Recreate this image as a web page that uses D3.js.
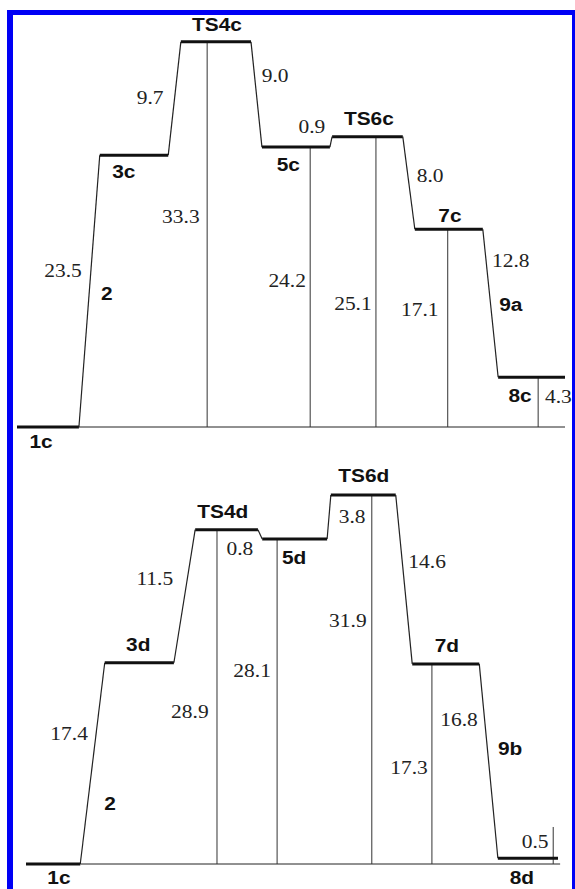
<!DOCTYPE html>
<html>
<head>
    <title>Energy Profile</title>
    <style>
        body { margin: 0; background: #fff; }
        .level { stroke: #111; stroke-width: 3px; }
        .slope { stroke: #222; stroke-width: 1.2px; fill: none; }
        .drop { stroke: #333; stroke-width: 1px; }
        .base { stroke: #222; stroke-width: 1px; }
        .name { font-family: "Liberation Sans", Arial, sans-serif; font-weight: bold; font-size: 18px; fill: #111; }
        .num { font-family: "Liberation Serif", "Times New Roman", serif; font-size: 18.5px; fill: #222; }
    </style>
</head>
<body>
<script src="https://d3js.org/d3.v7.min.js"></script>
<script>
    // --- data (kcal/mol relative to 1c) ---
    const topNames = ["1c", "3c", "TS4c", "5c", "TS6c", "7c", "8c"];
    const topEnergy = [0, 23.5, 33.3, 24.2, 25.1, 17.1, 4.3];
    const topSteps = [23.5, 9.7, 9.0, 0.9, 8.0, 12.8];
    const topBridge = ["2", "9a"];

    const botNames = ["1c", "3d", "TS4d", "5d", "TS6d", "7d", "8d"];
    const botEnergy = [0, 17.4, 28.9, 28.1, 31.9, 17.3, 0.5];
    const botSteps = [17.4, 11.5, 0.8, 3.8, 14.6, 16.8];
    const botBridge = ["2", "9b"];

    // --- layout: reaction coordinate (0-100) extents and label anchors [rc, energy] ---
    const topSpan = [[0, 11.3], [15.1, 27.6], [29.9, 42.7], [44.7, 57.1], [57.5, 70.4], [72.6, 85.0], [87.8, 100]];
    const topDrop = [null, null, 34.7, 53.5, 65.5, 78.6, 95.1];
    const topNamePos = [[4.4, -1.8], [19.5, 21.5], [36.5, 34.2], [49.5, 22.1], [64.2, 26.1], [79.0, 17.7], [91.8, 2.2]];
    const topStepPos = [[8.4, 13.0], [24.3, 27.9], [47.1, 29.8], [53.8, 25.4], [75.4, 21.2], [90.1, 13.8]];
    const topValuePos = [null, null, [29.9, 17.6], [49.3, 12.1], [61.3, 10.1], [73.5, 9.6], [98.8, 2.1]];
    const topBridgePos = [[16.4, 11.0], [90.1, 10.0]];

    const botSpan = [[0, 10.2], [14.8, 27.8], [31.8, 43.6], [44.4, 56.6], [57.3, 69.5], [72.6, 85.2], [88.7, 100]];
    const botDrop = [null, null, 35.9, 47.2, 65.0, 76.3, 99.1];
    const botNamePos = [[6.2, -1.75], [21.1, 18.4], [37.0, 29.9], [50.4, 25.9], [63.5, 33.0], [79.1, 18.3], [93.2, -1.7]];
    const botStepPos = [[8.1, 10.7], [24.2, 24.1], [40.2, 26.7], [61.3, 29.5], [75.4, 25.6], [81.4, 11.9]];
    const botValuePos = [null, null, [30.8, 12.6], [42.5, 16.2], [60.5, 20.5], [72.0, 7.8], [95.7, 1.4]];
    const botBridgePos = [[15.8, 4.7], [91.0, 9.4]];

    const width = 575, height = 889;
    const stretch = 1.16; // text in the source is a bit wider than tall

    const svg = d3.select("body").append("svg")
        .attr("width", width)
        .attr("height", height);

    // blue frame (no bottom edge)
    svg.append("rect").attr("x", 7).attr("y", 10).attr("width", 568).attr("height", 5).attr("fill", "#0000f5");
    svg.append("rect").attr("x", 7).attr("y", 10).attr("width", 6).attr("height", height - 10).attr("fill", "#0000f5");
    svg.append("rect").attr("x", 572).attr("y", 10).attr("width", 3).attr("height", height - 10).attr("fill", "#0000f5");

    function label(g, text, cls, x, y) {
        g.append("text")
            .attr("class", cls)
            .attr("text-anchor", "middle")
            .attr("transform", `translate(${x},${y}) scale(${stretch},1)`)
            .text(text);
    }

    function drawPanel(p) {
        const g = svg.append("g");
        const x = d3.scaleLinear().domain([0, 100]).range(p.xRange);
        const y = d3.scaleLinear().domain([0, p.energy[p.top]]).range([p.base, p.base - p.energy[p.top] * 11.567]);

        // baseline from the end of the reactant level
        g.append("line").attr("class", "base")
            .attr("x1", x(p.span[0][1])).attr("x2", x(p.baseEnd))
            .attr("y1", y(0)).attr("y2", y(0));

        // drop lines
        p.energy.forEach((e, i) => {
            if (p.drop[i] == null) return;
            g.append("line").attr("class", "drop")
                .attr("x1", x(p.drop[i])).attr("x2", x(p.drop[i]))
                .attr("y1", y(Math.max(e, p.minDrop))).attr("y2", y(0));
        });

        // connectors
        d3.range(p.energy.length - 1).forEach(i => {
            g.append("line").attr("class", "slope")
                .attr("x1", x(p.span[i][1])).attr("y1", y(p.energy[i]))
                .attr("x2", x(p.span[i + 1][0])).attr("y2", y(p.energy[i + 1]));
        });

        // levels
        g.selectAll(".level").data(p.energy).enter().append("line")
            .attr("class", "level")
            .attr("x1", (d, i) => x(p.span[i][0]))
            .attr("x2", (d, i) => x(p.span[i][1]))
            .attr("y1", d => y(d)).attr("y2", d => y(d));

        // text
        p.names.forEach((n, i) => label(g, n, "name", x(p.namePos[i][0]), y(p.namePos[i][1])));
        p.bridge.forEach((n, i) => label(g, n, "name", x(p.bridgePos[i][0]), y(p.bridgePos[i][1])));
        p.steps.forEach((s, i) => label(g, s.toFixed(1), "num", x(p.stepPos[i][0]), y(p.stepPos[i][1])));
        p.energy.forEach((e, i) => {
            if (!p.valuePos[i]) return;
            label(g, e.toFixed(1), "num", x(p.valuePos[i][0]), y(p.valuePos[i][1]));
        });
    }

    drawPanel({
        names: topNames, energy: topEnergy, steps: topSteps, bridge: topBridge,
        span: topSpan, drop: topDrop, namePos: topNamePos, stepPos: topStepPos,
        valuePos: topValuePos, bridgePos: topBridgePos,
        xRange: [17, 565], base: 427, top: 2, baseEnd: 100, minDrop: 3.2
    });

    drawPanel({
        names: botNames, energy: botEnergy, steps: botSteps, bridge: botBridge,
        span: botSpan, drop: botDrop, namePos: botNamePos, stepPos: botStepPos,
        valuePos: botValuePos, bridgePos: botBridgePos,
        xRange: [26, 558], base: 864, top: 4, baseEnd: 100.4, minDrop: 3.2
    });
</script>
</body>
</html>
